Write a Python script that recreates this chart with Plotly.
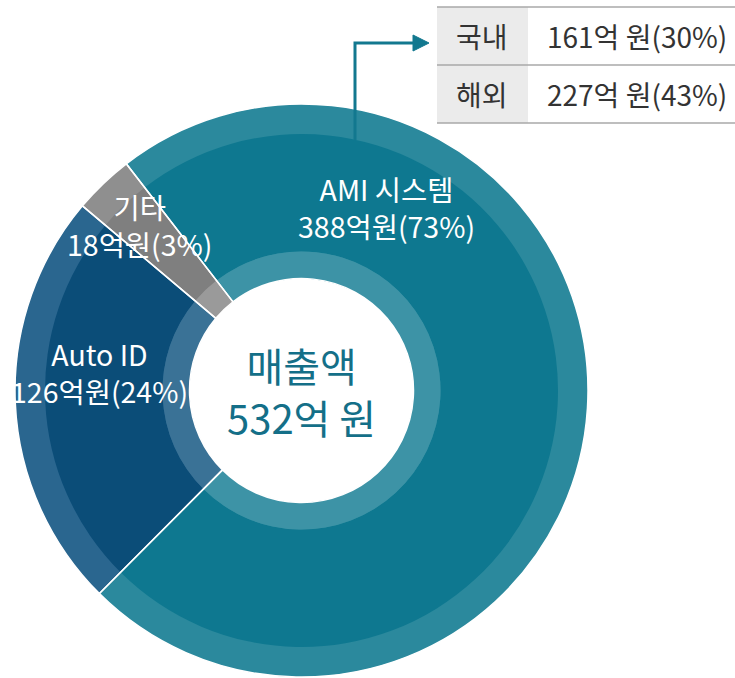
import plotly.graph_objects as go

# Sales breakdown (unit: 억원)
categories = ["AMI 시스템", "Auto ID", "기타"]
values = [388, 126, 18]
shares = [73, 24, 3]
total = 532

# AMI split by market
regions = ["국내", "해외"]
region_values = [161, 227]
region_shares = [30, 43]

W, H = 735, 678
FONT = "Noto Sans CJK KR"

main_colors = ["#0e7890", "#0b4d78", "#7f7f7f"]
band_colors = ["#2b899d", "#2a668f", "#8f8f8f"]
inner_colors = ["#3d93a6", "#3a7296", "#9a9a9a"]


def px(x):
    return x / W


def py(y):
    return 1 - y / H


def dom(cx, cy, r):
    return dict(x=[px(cx - r), px(cx + r)], y=[py(cy + r), py(cy - r)])


def text_at(x, y, text, size, color, **kw):
    return dict(x=px(x), y=py(y), xref="paper", yref="paper", text=text,
                showarrow=False, font=dict(family=FONT, size=size, color=color),
                xanchor=kw.get("xanchor", "center"), yanchor=kw.get("yanchor", "middle"))


CX, CY = 301.5, 390.5
R_OUT, R_BAND, R_RING, R_HOLE = 286.5, 256.5, 139, 112
ROT = -37.7

common = dict(labels=categories, values=values, sort=False, direction="clockwise",
              rotation=ROT, textinfo="none", hoverinfo="label+value", showlegend=False)

fig = go.Figure()
# outer light band
fig.add_trace(go.Pie(**common, domain=dom(CX, CY, R_OUT), hole=R_HOLE / R_OUT,
                     marker=dict(colors=band_colors, line=dict(width=0))))
# main body
fig.add_trace(go.Pie(**common, domain=dom(CX, CY, R_BAND), hole=R_RING / R_BAND,
                     marker=dict(colors=main_colors, line=dict(width=0))))
# inner light ring
fig.add_trace(go.Pie(**common, domain=dom(CX, CY, R_RING), hole=R_HOLE / R_RING,
                     marker=dict(colors=inner_colors, line=dict(width=0))))
# white separators between slices
fig.add_trace(go.Pie(**common, domain=dom(CX, CY, R_OUT), hole=R_HOLE / R_OUT,
                     marker=dict(colors=["rgba(0,0,0,0)"] * 3,
                                 line=dict(color="white", width=1.5))))

annotations = []
# slice labels, two lines each
label_pos = [(386, 206.5), (99, 372.5), (139, 225)]
for name, v, s, (lx, ly) in zip(categories, values, shares, label_pos):
    annotations.append(text_at(lx, ly, f"{name}<br>{v}억원({s}%)", 28.5, "white"))

# centre total
annotations.append(text_at(CX, 391, f"매출액<br>{total}억 원", 40, "#146f88"))

shapes = []
# market table
T_LEFT, T_MID, T_RIGHT = 437, 528, 735
row_edges = [7, 65, 123]
shapes.append(dict(type="rect", xref="paper", yref="paper",
                   x0=px(T_LEFT), x1=px(T_MID), y0=py(row_edges[-1]), y1=py(row_edges[0]),
                   fillcolor="#ebebeb", line=dict(width=0), layer="above"))
for y in row_edges:
    shapes.append(dict(type="line", xref="paper", yref="paper",
                       x0=px(T_LEFT), x1=px(T_RIGHT), y0=py(y), y1=py(y),
                       line=dict(color="#a8a8a8", width=1.5), layer="above"))
for i, (rg, rv, rs) in enumerate(zip(regions, region_values, region_shares)):
    yc = (row_edges[i] + row_edges[i + 1]) / 2
    annotations.append(text_at((T_LEFT + T_MID) / 2, yc, rg, 28, "#333333"))
    annotations.append(text_at(637, yc, f"{rv}억 원({rs}%)", 28, "#333333"))

# elbow connector from the AMI slice to the table
ARROW = "#12788f"
shapes.append(dict(type="path", xref="paper", yref="paper",
                   path=f"M {px(355)},{py(140)} L {px(355)},{py(43)} L {px(416)},{py(43)}",
                   line=dict(color=ARROW, width=3), layer="above"))
shapes.append(dict(type="path", xref="paper", yref="paper",
                   path=f"M {px(413)},{py(35)} L {px(429)},{py(43)} L {px(413)},{py(51)} Z",
                   fillcolor=ARROW, line=dict(color=ARROW, width=1), layer="above"))

# unit note, running off the bottom edge
annotations.append(text_at(613, 671, "(단위: 억원)", 20, "#333333", yanchor="top"))

fig.update_layout(width=W, height=H, margin=dict(l=0, r=0, t=0, b=0),
                  paper_bgcolor="white", plot_bgcolor="white",
                  annotations=annotations, shapes=shapes, showlegend=False)

fig.write_html("out.html")
